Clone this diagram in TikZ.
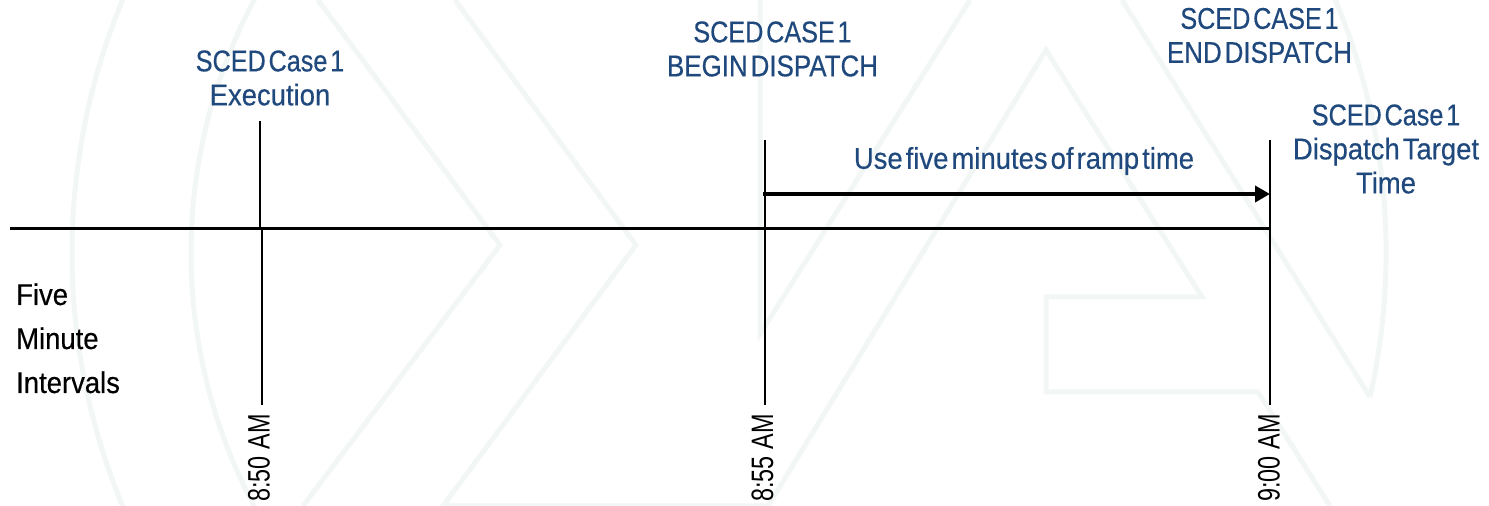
\documentclass[tikz,border=0pt]{standalone}
\usepackage{fontspec}
\usetikzlibrary{arrows.meta}
\setmainfont[FakeStretch=0.915,WordSpace=0.4,FakeBold=0.4]{Liberation Sans}
\newfontfamily\fsced[FakeStretch=0.84,WordSpace=0.4,FakeBold=0.4]{Liberation Sans}
\newfontfamily\fup[FakeStretch=0.865,WordSpace=0.4,FakeBold=0.4]{Liberation Sans}
\newfontfamily\timefont[FakeStretch=0.755]{Liberation Sans}
\definecolor{wm}{HTML}{F2F7F6}
\definecolor{navy}{HTML}{1F497D}
\tikzset{
  x=1pt,y=1pt,
  wmline/.style={draw=wm,line width=5pt,miter limit=20},
  bluetext/.style={text=navy,align=center,inner sep=0pt,outer sep=0pt,font=\fontsize{30}{34}\selectfont},
  blacktext/.style={text=black,align=left,inner sep=0pt,anchor=base west,font=\fontsize{30}{34}\selectfont},
  timetext/.style={text=black,rotate=90,inner sep=0pt,font=\timefont\fontsize{31}{34}\selectfont},
  axisline/.style={draw=black,line width=2.3pt},
  tickup/.style={draw=black,line width=1.6pt},
  tickdown/.style={draw=black,line width=2pt},
  ramp/.style={draw=black,line width=4pt,-{Triangle[length=15pt,width=16pt]},shorten >=-1pt}
}
\begin{document}
\begin{tikzpicture}
\useasboundingbox (0,0) rectangle (1489,506);
\fill[white] (0,0) rectangle (1489,506);
\begin{scope}
\clip (0,0) rectangle (1489,506);
\draw[wmline] (1370,109) arc[start angle=-12.66,end angle=210,radius=657pt];
\draw[wmline] (288.3,561.6) arc[start angle=145,end angle=215,radius=538pt];
\draw[wmline] (318,506) -- (500,261) -- (303,0);
\draw[wmline] (455,506) -- (636,261) -- (443,0) -- (770,0);
\draw[wmline] (760,520) -- (760,172) -- (970,506);
\draw[wmline] (768,0) -- (1046,456) -- (1202,209) -- (1046,209) -- (1046,114) -- (1258,114) -- (1330,0);
\draw[wmline] (1122,506) -- (1370,109);
\end{scope}
% coordinates
\coordinate (axisL) at (10,277.5);
\coordinate (axisR) at (1271,277.5);
\coordinate (a50t) at (260,385);
\coordinate (a50b) at (262,277.5);
\coordinate (a50e) at (262,101);
\coordinate (a55t) at (765,366);
\coordinate (a55e) at (765,101);
\coordinate (a90t) at (1269.5,366);
\coordinate (a90e) at (1269.5,101);
\coordinate (rampS) at (763,312);
\coordinate (rampE) at (1269,312);
% lines
\draw[tickup] (a50t) -- (a50t |- axisL);
\draw[tickdown] (a50b) -- (a50e);
\draw[tickdown] (a55t) -- (a55e);
\draw[tickdown] (a90t) -- (a90e);
\draw[axisline] (axisL) -- (axisR);
\draw[ramp] (rampS) -- (rampE);
% labels
\node[bluetext] (exec) at (270,428) {{\fsced SCED Case 1}\\Execution};
\node[bluetext] (begin) at (772.5,457) {{\fsced SCED CASE 1}\\{\fup BEGIN DISPATCH}};
\node[bluetext] (end) at (1259.5,470.5) {{\fsced SCED CASE 1}\\{\fup END DISPATCH}};
\node[bluetext] (target) at (1386,357) {{\fsced SCED Case 1}\\Dispatch Target\\Time};
\node[bluetext] (use) at (1024,345) {Use five minutes of ramp time};
\node[blacktext] (five) at (16,201) {Five};
\node[blacktext] (minute) at (16,157) {Minute};
\node[blacktext] (intervals) at (16,113) {Intervals};
\node[timetext] (t50) at (259,48) {8:50 AM};
\node[timetext] (t55) at (762.5,48) {8:55 AM};
\node[timetext] (t90) at (1269,48) {9:00 AM};
\end{tikzpicture}
\end{document}
